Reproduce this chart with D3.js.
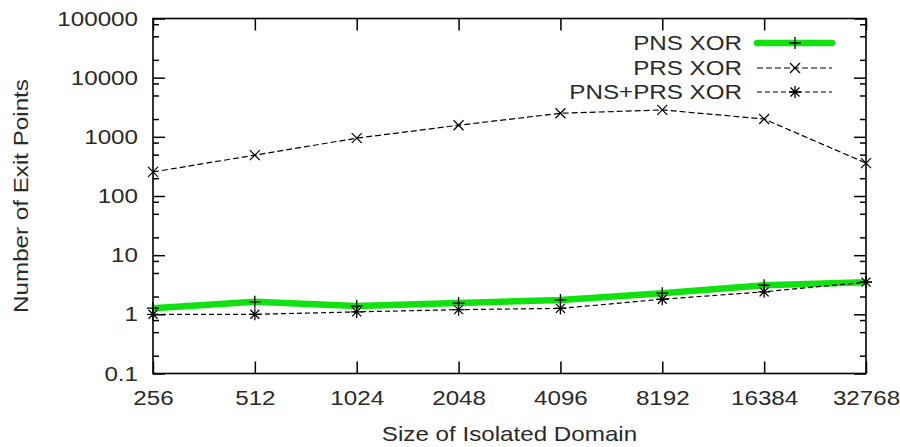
<!DOCTYPE html>
<html>
<head>
<meta charset="utf-8">
<script src="https://cdn.jsdelivr.net/npm/d3@7"></script>
<style>
  html, body { margin: 0; padding: 0; background: #fff; }
  svg { display: block; }
  text { font-family: "Liberation Sans", Arial, sans-serif; fill: #2a2a2a; }
</style>
</head>
<body>
<svg id="chart" width="900" height="447"></svg>
<script>
// ---- data ----
const sizes = [256, 512, 1024, 2048, 4096, 8192, 16384, 32768];
const pnsXor = [1.27, 1.63, 1.38, 1.55, 1.75, 2.28, 3.1, 3.5];
const prsXor = [255, 490, 950, 1570, 2500, 2850, 2000, 360];
const pnsPrsXor = [1.0, 1.0, 1.1, 1.2, 1.26, 1.8, 2.4, 3.5];
const yTicks = [0.1, 1, 10, 100, 1000, 10000, 100000];
const seriesNames = ["PNS XOR", "PRS XOR", "PNS+PRS XOR"];
const xTitle = "Size of Isolated Domain";
const yTitle = "Number of Exit Points";

// ---- layout ----
const W = 900, H = 447;
const L = 153, R = 866, T = 18.5, B = 373.5;
const SX = 1.18;   // horizontal text stretch
const FS = 20.5;

const svg = d3.select("#chart");

const x = d3.scalePoint().domain(sizes).range([L, R]).padding(0);
const y = d3.scaleLog().domain([0.1, 100000]).range([B, T]);

const minorTicks = [];
for (let e = -1; e < 5; e++) {
  [2, 5, 8].forEach(m => minorTicks.push(m * Math.pow(10, e)));
}

function styleAxis(g) {
  g.select(".domain").remove();
  g.selectAll(".tick line").attr("stroke", "#000").attr("stroke-width", 1.5);
}

// major ticks left
const gl = svg.append("g").attr("transform", `translate(${L},0)`)
  .call(d3.axisLeft(y).tickValues(yTicks).tickSize(-12).tickPadding(15)
    .tickFormat(d => d < 1 ? d3.format(".1f")(d) : d3.format("d")(d)));
styleAxis(gl);
gl.selectAll(".tick text").attr("font-size", FS).attr("fill", "#2a2a2a")
  .attr("transform", `scale(${SX},1)`).attr("x", -15 / SX);
// minor ticks left
styleAxis(svg.append("g").attr("transform", `translate(${L},0)`)
  .call(d3.axisLeft(y).tickValues(minorTicks).tickSize(-6).tickFormat("")));
// right mirror
styleAxis(svg.append("g").attr("transform", `translate(${R},0)`)
  .call(d3.axisRight(y).tickValues(yTicks).tickSize(-12).tickFormat("")));
styleAxis(svg.append("g").attr("transform", `translate(${R},0)`)
  .call(d3.axisRight(y).tickValues(minorTicks).tickSize(-6).tickFormat("")));

// bottom
const gb = svg.append("g").attr("transform", `translate(0,${B})`)
  .call(d3.axisBottom(x).tickSize(-12).tickPadding(17));
styleAxis(gb);
gb.selectAll(".tick text").attr("font-size", FS).attr("fill", "#2a2a2a")
  .attr("transform", `scale(${SX},1)`);
// top mirror
styleAxis(svg.append("g").attr("transform", `translate(0,${T})`)
  .call(d3.axisTop(x).tickSize(-12).tickFormat("")));

// frame
svg.append("rect").attr("x", L).attr("y", T).attr("width", R - L).attr("height", B - T)
  .attr("fill", "none").attr("stroke", "#000").attr("stroke-width", 1.6);

// titles
function stretchedText(px, py, str, anchor, rot) {
  svg.append("g").attr("transform", `translate(${px},${py}) rotate(${rot || 0}) scale(${SX},1)`)
    .append("text").attr("text-anchor", anchor).attr("dy", "0.35em")
    .attr("font-size", FS).text(str);
}
stretchedText((L + R) / 2, 434, xTitle, "middle", 0);
stretchedText(21, (T + B) / 2, yTitle, "middle", -90);

// markers
function plusPath(cx, cy, r) { return `M${cx - r},${cy}H${cx + r}M${cx},${cy - r}V${cy + r}`; }
function timesPath(cx, cy, r) { return `M${cx - r},${cy - r}L${cx + r},${cy + r}M${cx - r},${cy + r}L${cx + r},${cy - r}`; }
function starPath(cx, cy, r) { return plusPath(cx, cy, r) + timesPath(cx, cy, r * 0.75); }

const line = d3.line().x((d, i) => x(sizes[i])).y(d => y(d));

const plot = svg.append("g");
// PNS XOR: thick green
plot.append("path").datum(pnsXor).attr("d", line)
  .attr("fill", "none").attr("stroke", "#11e011").attr("stroke-width", 6.5)
  .attr("stroke-linejoin", "round");
plot.append("g").selectAll("path").data(pnsXor).join("path")
  .attr("d", (d, i) => plusPath(x(sizes[i]), y(d), 6))
  .attr("stroke", "#000").attr("stroke-width", 1.3);

// PRS XOR
plot.append("path").datum(prsXor).attr("d", line)
  .attr("fill", "none").attr("stroke", "#000").attr("stroke-width", 1.2)
  .attr("stroke-dasharray", "6,3");
plot.append("g").selectAll("path").data(prsXor).join("path")
  .attr("d", (d, i) => timesPath(x(sizes[i]), y(d), 5))
  .attr("stroke", "#000").attr("stroke-width", 1.2);

// PNS+PRS XOR
plot.append("path").datum(pnsPrsXor).attr("d", line)
  .attr("fill", "none").attr("stroke", "#000").attr("stroke-width", 1.2)
  .attr("stroke-dasharray", "5,3");
plot.append("g").selectAll("path").data(pnsPrsXor).join("path")
  .attr("d", (d, i) => starPath(x(sizes[i]), y(d), 6))
  .attr("stroke", "#000").attr("stroke-width", 1.3);

// legend
const legRows = [43, 68, 92];
const lx0 = 757, lx1 = 832, lxm = 795, ltx = 742;
seriesNames.forEach((name, i) => {
  const ry = legRows[i];
  svg.append("g").attr("transform", `translate(${ltx},${ry}) scale(${SX},1)`)
    .append("text").attr("text-anchor", "end").attr("dy", "0.35em")
    .attr("font-size", FS).text(name);
  if (i === 0) {
    svg.append("line").attr("x1", lx0).attr("x2", lx1).attr("y1", ry).attr("y2", ry)
      .attr("stroke", "#11e011").attr("stroke-width", 6.5).attr("stroke-linecap", "round");
    svg.append("path").attr("d", plusPath(lxm, ry, 6)).attr("stroke", "#000").attr("stroke-width", 1.3);
  } else {
    svg.append("line").attr("x1", lx0).attr("x2", lx1).attr("y1", ry).attr("y2", ry)
      .attr("stroke", "#000").attr("stroke-width", 1.2).attr("stroke-dasharray", i === 1 ? "6,3" : "5,3");
    svg.append("path").attr("d", i === 1 ? timesPath(lxm, ry, 5) : starPath(lxm, ry, 6))
      .attr("stroke", "#000").attr("stroke-width", 1.3);
  }
});
</script>
</body>
</html>
